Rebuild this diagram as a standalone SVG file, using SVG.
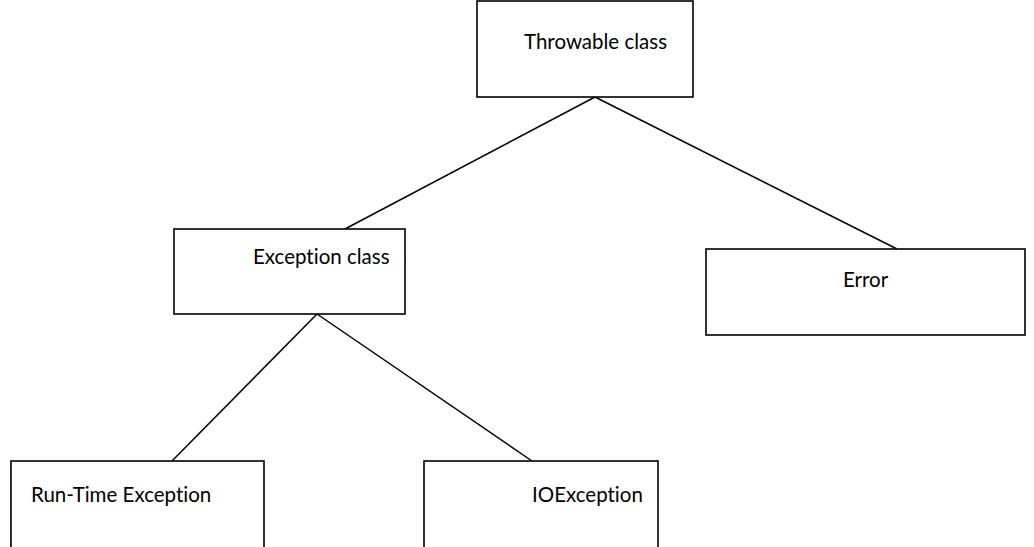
<svg xmlns="http://www.w3.org/2000/svg" width="1034" height="547" viewBox="0 0 1034 547">
<style>
.box{fill:#fff;stroke:#000;stroke-width:1.6}
.lbl{font-family:Lato,"Liberation Sans",sans-serif;font-size:20.5px;fill:#000;font-variant-ligatures:none;font-feature-settings:"liga" 0}
.con{stroke:#000;stroke-width:1.5;fill:none}
</style>
<rect width="1034" height="547" fill="#fff"/>
<g id="connectors">
<line class="con" x1="595" y1="97" x2="345" y2="229"/>
<line class="con" x1="595" y1="97" x2="897" y2="249"/>
<line class="con" x1="317" y1="314" x2="172" y2="461"/>
<line class="con" x1="317" y1="314" x2="532" y2="461"/>
</g>
<g id="throwable">
<rect class="box" x="477" y="1" width="216" height="96"/>
<text class="lbl" x="524" y="49">Throwable class</text>
</g>
<g id="exception">
<rect class="box" x="174" y="229" width="231" height="85"/>
<text class="lbl" x="253" y="264">Exception class</text>
</g>
<g id="error">
<rect class="box" x="706" y="249" width="319" height="86"/>
<text class="lbl" x="843" y="287">Error</text>
</g>
<g id="runtime">
<rect class="box" x="11" y="461" width="253" height="100"/>
<text class="lbl" x="31" y="502">Run-Time Exception</text>
</g>
<g id="ioexception">
<rect class="box" x="424" y="461" width="234" height="100"/>
<text class="lbl" x="532" y="502">IOException</text>
</g>
</svg>
